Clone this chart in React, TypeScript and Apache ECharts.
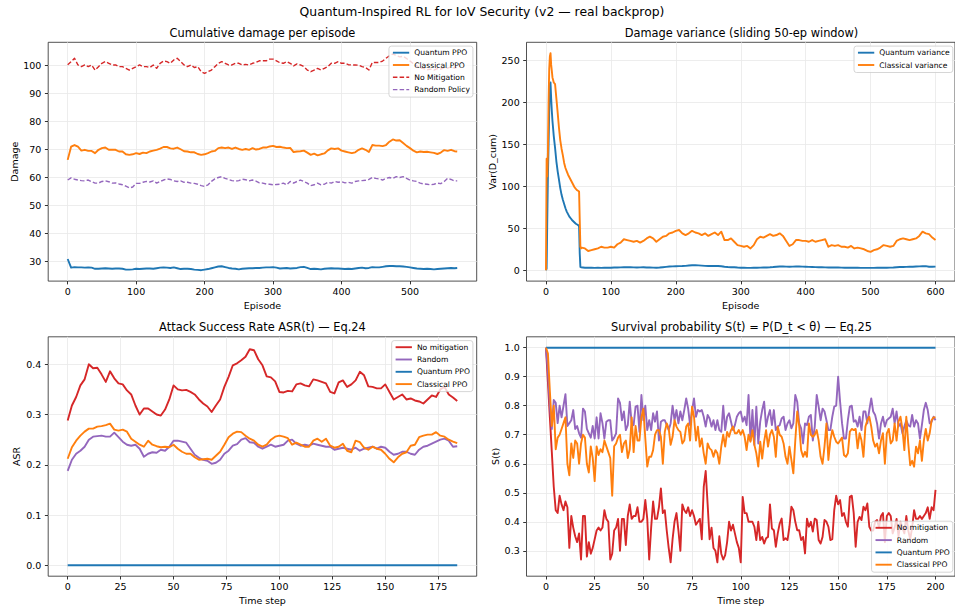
import React, { useEffect, useRef } from 'react';
import * as echarts from 'echarts';

const FONT = "'DejaVu Sans', 'Liberation Sans', sans-serif";
const BLUE = '#1f77b4';
const ORANGE = '#ff7f0e';
const RED = '#d62728';
const PURPLE = '#9467bd';

// ---------- Panel 1: cumulative damage per episode ----------
const TL_EPISODES = [0,5,10,15,20,25,30,35,40,45,50,55,60,65,70,75,80,85,90,95,100,105,110,115,120,125,130,135,140,145,150,155,160,165,170,175,180,185,190,195,200,205,210,215,220,225,230,235,240,245,250,255,260,265,270,275,280,285,290,295,300,305,310,315,320,325,330,335,340,345,350,355,360,365,370,375,380,385,390,395,400,405,410,415,420,425,430,435,440,445,450,455,460,465,470,475,480,485,490,495,500,505,510,515,520,525,530,535,540,545,550,555,560,565,569];
const TL_QUANTUM = [30.8,27.7,27.9,27.8,27.8,27.7,27.8,27.7,27.3,27.3,27.4,27.5,27.4,27.3,27.4,27.4,27.3,27.0,27.0,27.1,27.3,27.2,27.3,27.4,27.4,27.3,27.5,27.7,27.8,27.7,27.6,27.8,27.5,27.2,27.3,27.3,27.2,27.0,26.9,26.8,27.0,27.2,27.5,27.8,28.1,28.2,27.9,27.6,27.4,27.3,27.1,27.3,27.4,27.5,27.5,27.6,27.6,27.7,27.8,27.8,27.9,27.7,27.4,27.5,27.6,27.4,27.5,27.6,27.9,28.0,27.6,27.2,27.3,27.2,27.1,27.3,27.4,27.5,27.4,27.4,27.3,27.2,27.3,27.2,27.4,27.6,27.7,27.5,27.6,27.9,27.8,27.8,28.0,28.2,28.3,28.3,28.2,28.2,28.1,28.0,27.8,27.6,27.4,27.3,27.2,27.3,27.2,27.1,27.2,27.3,27.4,27.5,27.6,27.5,27.6];
const TL_CLASSICAL = [66.2,70.9,71.5,70.9,69.5,69.8,69.4,69.4,68.6,69.8,70.4,70.6,69.8,69.8,69.8,69.2,69.2,68.2,68.0,68.2,68.6,68.3,68.8,68.6,69.2,69.5,69.8,70.2,70.8,70.8,70.3,70.2,70.6,70.0,69.3,69.2,68.9,68.9,68.3,68.0,68.2,68.6,69.2,69.4,70.4,70.6,70.4,70.6,70.1,70.6,70.1,69.8,70.1,69.8,70.4,69.9,70.1,70.6,70.6,71.0,71.2,70.8,70.9,70.6,70.4,70.5,69.0,69.2,69.3,69.5,68.8,68.0,68.4,67.8,68.2,68.5,69.6,70.3,70.1,70.3,69.5,69.2,68.9,68.6,68.9,69.8,70.3,69.8,69.0,71.5,71.3,71.3,71.1,71.5,72.7,73.5,73.1,73.2,72.2,71.2,70.4,69.5,68.9,69.2,69.0,69.1,68.9,68.7,68.3,68.8,69.7,69.4,69.8,69.3,69.2];
const TL_NO_MITIGATION = [100.2,101.3,102.5,100.1,99.5,100.1,99.5,100.1,98.3,99.5,100.7,101.3,100.7,100.1,100.1,99.5,99.5,98.9,98.3,98.9,99.5,100.1,99.5,99.5,99.2,100.1,98.9,100.7,101.5,101.3,100.7,101.9,102.5,101.3,100.1,99.5,100.1,99.2,99.5,97.7,97.1,97.7,98.3,99.5,100.7,101.3,100.7,100.1,100.1,100.7,100.7,100.1,100.3,100.1,100.7,101.0,101.6,101.6,101.6,102.2,102.2,101.6,100.9,100.7,101.3,100.7,99.8,100.5,100.1,99.5,98.3,97.7,98.3,98.9,98.3,98.9,99.5,100.7,100.7,101.3,100.7,100.7,100.2,100.1,100.1,100.0,99.5,99.2,98.3,101.0,101.0,101.0,101.5,102.5,103.4,104.0,103.5,103.0,103.2,102.4,101.5,100.5,99.8,99.0,98.8,98.4,98.6,98.3,98.8,98.6,99.2,99.0,99.5,99.0,99.3];
const TL_RANDOM = [59.0,59.8,59.3,59.0,58.8,58.7,59.0,58.4,57.9,57.9,58.5,58.7,58.4,57.9,58.0,57.6,57.3,56.8,56.2,56.5,57.8,57.8,58.2,58.5,58.3,58.7,57.9,58.5,59.0,59.4,59.2,58.7,58.5,58.7,58.2,58.2,57.9,57.8,57.5,57.0,56.7,57.3,58.5,59.4,59.9,60.2,59.6,59.2,58.8,58.6,58.8,59.3,59.1,58.7,59.0,58.6,58.0,57.9,57.6,57.5,57.3,57.4,57.5,57.9,57.3,58.5,57.9,58.5,59.0,58.5,57.9,57.0,57.3,57.9,57.3,57.5,58.2,57.9,58.5,58.2,58.4,58.0,58.2,57.9,58.5,58.7,58.8,58.9,59.2,59.9,59.6,59.4,59.0,59.6,59.9,59.6,60.2,59.9,60.2,59.6,59.0,58.7,58.5,57.9,57.6,57.5,57.3,57.5,57.9,57.7,58.5,59.6,59.2,58.7,58.7];

// ---------- Panel 2: damage variance ----------
const TR_EPISODES = [0,1,2,3,4,5,6,7,8,9,10,12,14,16,18,20,22,24,26,28,30,32,34,36,38,40,42,44,46,48,50,51,52,53,54,55,60,65,70,75,80,85,90,95,100,105,110,115,120,125,130,135,140,145,150,155,160,165,170,175,180,185,190,195,200,205,210,215,220,225,230,235,240,245,250,255,260,265,270,275,280,285,290,295,300,305,310,315,320,325,330,335,340,345,350,355,360,365,370,375,380,385,390,395,400,405,410,415,420,425,430,435,440,445,450,455,460,465,470,475,480,485,490,495,500,505,510,515,520,525,530,535,540,545,550,555,560,565,570,575,580,585,590,595,600];
const TR_QUANTUM = [0,2,60,113,150,190,222,224,205,190,178,160,146,130,118,108,98,90,84,79,74,70,67,64,62,60,58.5,57,55.5,54.5,53.5,52,20,4,3.5,3.2,3.0,3.0,2.9,2.8,2.9,2.8,3.0,3.1,3.0,3.2,3.3,3.4,3.5,3.6,3.5,3.4,3.3,3.4,3.5,3.3,3.2,3.1,3.0,3.2,3.6,4.0,4.4,4.6,4.8,4.9,5.0,5.2,5.6,5.9,6.0,5.8,5.5,5.2,5.0,5.1,5.2,5.0,4.8,4.2,3.8,3.6,3.5,3.2,3.0,2.9,2.8,2.8,2.9,3.0,3.1,3.2,3.3,3.5,3.8,4.2,4.5,4.5,4.3,4.2,4.3,4.4,4.4,4.3,4.2,4.0,3.9,3.7,3.6,3.5,3.4,3.3,3.2,3.2,3.2,3.1,3.0,3.0,3.0,2.9,2.9,2.8,2.8,2.8,2.8,2.8,2.9,2.9,3.0,3.0,3.1,3.3,3.6,3.8,3.9,4.0,4.1,4.2,4.4,4.6,4.8,4.9,4.2,4.1,4.3];
const TR_CLASSICAL = [0,133,112,140,200,240,255,259,245,238,230,224,222,205,188,170,155,145,137,128,122,118,114,111,108,105,102,99,97,95.5,94.5,94,60,28,26,27,26,23,24,25,26,28,27,27,28,27,31,33,37,36,35,34,35,33,35,38,40,38,34,37,40,41,44,45,47,48,44,42,44,47,45,44,42,44,41,43,45,42,46,36,36,38,34,30,29,28,29,26,30,37,40,39,41,43,41,42,44,41,35,29,31,36,36,35,35,34,36,34,35,36,37,28,30,29,30,28,28,27,29,26,27,26,25,23,22,24,25,27,30,29,28,29,35,37,38,37,36,37,38,41,46,44,43,39,36];

// ---------- Panel 3: attack success rate (sampled every 2 time steps) ----------
const BL_STEP = 2;
const BL_NO_MITIGATION = [0.288,0.318,0.335,0.358,0.370,0.400,0.392,0.393,0.380,0.365,0.386,0.372,0.362,0.360,0.348,0.340,0.318,0.300,0.312,0.312,0.306,0.300,0.298,0.310,0.330,0.358,0.350,0.348,0.349,0.345,0.340,0.330,0.322,0.316,0.305,0.318,0.330,0.355,0.375,0.398,0.402,0.408,0.415,0.430,0.428,0.410,0.398,0.376,0.374,0.366,0.345,0.344,0.347,0.346,0.360,0.362,0.358,0.356,0.370,0.368,0.365,0.362,0.345,0.342,0.364,0.368,0.355,0.360,0.368,0.385,0.378,0.356,0.355,0.352,0.352,0.360,0.345,0.330,0.335,0.340,0.330,0.332,0.328,0.326,0.322,0.330,0.338,0.335,0.350,0.355,0.340,0.334,0.327];
const BL_RANDOM = [0.188,0.210,0.222,0.228,0.236,0.250,0.256,0.257,0.258,0.256,0.256,0.264,0.255,0.246,0.240,0.238,0.240,0.232,0.216,0.222,0.225,0.224,0.230,0.228,0.236,0.248,0.248,0.246,0.244,0.232,0.220,0.214,0.210,0.208,0.202,0.204,0.210,0.222,0.228,0.238,0.241,0.250,0.253,0.245,0.244,0.236,0.232,0.236,0.240,0.236,0.238,0.240,0.248,0.250,0.242,0.238,0.240,0.238,0.242,0.240,0.238,0.236,0.236,0.230,0.232,0.234,0.232,0.230,0.234,0.228,0.232,0.234,0.236,0.232,0.236,0.234,0.226,0.220,0.222,0.226,0.226,0.222,0.220,0.230,0.236,0.238,0.242,0.246,0.250,0.252,0.248,0.236,0.237];
const BL_QUANTUM = [0,0,0,0,0,0,0,0,0,0,0,0,0,0,0,0,0,0,0,0,0,0,0,0,0,0,0,0,0,0,0,0,0,0,0,0,0,0,0,0,0,0,0,0,0,0,0,0,0,0,0,0,0,0,0,0,0,0,0,0,0,0,0,0,0,0,0,0,0,0,0,0,0,0,0,0,0,0,0,0,0,0,0,0,0,0,0,0,0,0,0,0,0];
const BL_CLASSICAL = [0.212,0.235,0.248,0.258,0.266,0.272,0.272,0.276,0.277,0.279,0.282,0.270,0.268,0.270,0.266,0.252,0.246,0.240,0.236,0.248,0.240,0.237,0.235,0.236,0.235,0.240,0.232,0.226,0.222,0.222,0.215,0.210,0.211,0.212,0.210,0.218,0.226,0.240,0.255,0.262,0.266,0.265,0.258,0.252,0.248,0.240,0.236,0.240,0.250,0.256,0.258,0.256,0.253,0.240,0.244,0.240,0.236,0.236,0.248,0.252,0.246,0.252,0.238,0.234,0.236,0.242,0.228,0.225,0.248,0.245,0.234,0.230,0.236,0.232,0.230,0.222,0.212,0.205,0.215,0.222,0.225,0.238,0.240,0.255,0.258,0.260,0.260,0.265,0.258,0.256,0.250,0.246,0.243];

// ---------- Panel 4: survival probability (every time step) ----------
const BR_STEP = 1;
const BR_NO_MITIGATION = [1.0,0.88,0.76,0.64,0.52,0.44,0.43,0.49,0.46,0.44,0.47,0.45,0.31,0.42,0.38,0.35,0.33,0.36,0.27,0.42,0.42,0.28,0.33,0.29,0.31,0.34,0.37,0.38,0.37,0.38,0.44,0.41,0.40,0.27,0.29,0.37,0.38,0.41,0.30,0.41,0.41,0.32,0.42,0.46,0.41,0.42,0.42,0.45,0.40,0.40,0.41,0.475,0.41,0.27,0.38,0.47,0.41,0.41,0.45,0.515,0.43,0.44,0.37,0.31,0.26,0.34,0.40,0.43,0.37,0.30,0.46,0.44,0.43,0.45,0.42,0.44,0.42,0.39,0.40,0.41,0.34,0.52,0.575,0.46,0.34,0.38,0.31,0.30,0.26,0.35,0.29,0.27,0.285,0.33,0.40,0.37,0.39,0.36,0.33,0.31,0.26,0.486,0.43,0.43,0.40,0.40,0.40,0.383,0.337,0.40,0.337,0.348,0.325,0.343,0.348,0.46,0.377,0.371,0.314,0.36,0.394,0.411,0.337,0.343,0.337,0.383,0.452,0.44,0.40,0.371,0.371,0.337,0.348,0.291,0.411,0.383,0.40,0.366,0.411,0.406,0.337,0.325,0.348,0.406,0.40,0.383,0.337,0.34,0.44,0.49,0.46,0.475,0.42,0.43,0.40,0.383,0.486,0.49,0.43,0.314,0.40,0.417,0.406,0.452,0.44,0.463,0.383,0.37,0.37,0.40,0.406,0.38,0.42,0.43,0.33,0.42,0.43,0.42,0.36,0.38,0.41,0.35,0.40,0.38,0.36,0.42,0.37,0.34,0.38,0.44,0.41,0.41,0.42,0.41,0.42,0.43,0.45,0.41,0.45,0.44,0.51];
const BR_RANDOM = [1.0,0.92,0.80,0.72,0.82,0.81,0.74,0.80,0.76,0.80,0.84,0.73,0.74,0.75,0.785,0.72,0.73,0.705,0.69,0.79,0.78,0.72,0.705,0.69,0.73,0.687,0.76,0.687,0.774,0.74,0.687,0.745,0.75,0.75,0.68,0.69,0.705,0.825,0.81,0.75,0.78,0.716,0.733,0.814,0.74,0.733,0.797,0.80,0.71,0.837,0.75,0.80,0.716,0.75,0.716,0.774,0.745,0.78,0.68,0.745,0.75,0.75,0.733,0.716,0.739,0.80,0.75,0.785,0.739,0.78,0.75,0.785,0.825,0.79,0.733,0.785,0.825,0.762,0.785,0.78,0.785,0.762,0.728,0.768,0.756,0.728,0.75,0.716,0.75,0.716,0.71,0.80,0.716,0.762,0.774,0.745,0.716,0.733,0.762,0.774,0.78,0.745,0.762,0.733,0.837,0.68,0.785,0.665,0.797,0.67,0.745,0.785,0.814,0.728,0.762,0.785,0.733,0.785,0.716,0.728,0.733,0.756,0.762,0.716,0.739,0.75,0.722,0.739,0.837,0.814,0.739,0.722,0.67,0.739,0.733,0.762,0.768,0.68,0.728,0.837,0.797,0.75,0.79,0.78,0.75,0.716,0.716,0.762,0.797,0.80,0.90,0.814,0.74,0.687,0.687,0.75,0.797,0.80,0.745,0.75,0.728,0.762,0.716,0.78,0.78,0.739,0.785,0.825,0.78,0.768,0.739,0.687,0.739,0.762,0.728,0.75,0.756,0.762,0.79,0.739,0.78,0.728,0.739,0.705,0.728,0.75,0.733,0.728,0.768,0.728,0.75,0.739,0.687,0.733,0.785,0.81,0.785,0.739,0.745,0.762,0.75];
const BR_QUANTUM_STEP = 10;
const BR_QUANTUM = [1.0,1.0,1.0,1.0,1.0,1.0,1.0,1.0,1.0,1.0,1.0,1.0,1.0,1.0,1.0,1.0,1.0,1.0,1.0,1.0,1.0];
const BR_CLASSICAL = [1.0,0.98,0.85,0.73,0.80,0.65,0.69,0.70,0.72,0.74,0.76,0.60,0.56,0.67,0.62,0.68,0.67,0.60,0.67,0.70,0.69,0.60,0.57,0.66,0.62,0.54,0.66,0.63,0.65,0.64,0.68,0.66,0.64,0.62,0.49,0.66,0.67,0.69,0.70,0.64,0.67,0.68,0.62,0.65,0.76,0.64,0.73,0.68,0.68,0.76,0.79,0.687,0.59,0.624,0.624,0.647,0.70,0.716,0.716,0.693,0.60,0.71,0.739,0.722,0.665,0.693,0.75,0.728,0.716,0.71,0.67,0.68,0.728,0.739,0.68,0.797,0.762,0.68,0.728,0.659,0.687,0.636,0.60,0.67,0.653,0.647,0.624,0.647,0.636,0.60,0.659,0.70,0.659,0.71,0.693,0.716,0.728,0.705,0.705,0.716,0.70,0.716,0.693,0.647,0.70,0.676,0.716,0.665,0.636,0.59,0.676,0.618,0.676,0.716,0.659,0.70,0.716,0.693,0.624,0.728,0.70,0.693,0.67,0.624,0.60,0.659,0.613,0.567,0.68,0.78,0.73,0.647,0.624,0.641,0.624,0.739,0.70,0.693,0.70,0.716,0.68,0.624,0.60,0.659,0.739,0.613,0.68,0.716,0.693,0.676,0.67,0.68,0.69,0.63,0.624,0.636,0.71,0.72,0.716,0.72,0.653,0.705,0.68,0.624,0.728,0.75,0.762,0.728,0.68,0.659,0.67,0.636,0.68,0.705,0.60,0.705,0.72,0.67,0.68,0.739,0.68,0.745,0.762,0.72,0.647,0.762,0.67,0.595,0.61,0.59,0.659,0.636,0.68,0.61,0.68,0.72,0.68,0.705,0.75,0.76,0.76];

// ---------- tick labels ----------
const TL_X_TICKS = [0, 100, 200, 300, 400, 500];
const TL_Y_TICKS = [30, 40, 50, 60, 70, 80, 90, 100];
const TR_X_TICKS = [0, 100, 200, 300, 400, 500, 600];
const TR_Y_TICKS = [0, 50, 100, 150, 200, 250];
const BL_X_TICKS = [0, 25, 50, 75, 100, 125, 150, 175];
const BL_Y_TICKS = [0, 0.1, 0.2, 0.3, 0.4];
const BR_X_TICKS = [0, 25, 50, 75, 100, 125, 150, 175, 200];
const BR_Y_TICKS = [0.3, 0.4, 0.5, 0.6, 0.7, 0.8, 0.9, 1.0];

const pairs = (xs: number[], ys: number[]) => ys.map((v, i) => [xs[i], v]);
const stepped = (ys: number[], step: number) => ys.map((v, i) => [i * step, v]);

const GRID_BOX = [
  { left: 48.2, top: 42.3, width: 428.5, height: 238.8 },
  { left: 526.5, top: 42.3, width: 430.1, height: 238.8 },
  { left: 48.2, top: 336.8, width: 428.5, height: 239.4 },
  { left: 526.5, top: 336.8, width: 430.1, height: 239.4 },
];

function axis(dim: 'x' | 'y', grid: number, min: number, max: number, ticks: number[], interval: number, name: string, nameGap: number, decimals: number) {
  const fmt = (v: number) => {
    const hit = ticks.some((t) => Math.abs(t - v) < interval * 1e-6);
    return hit ? v.toFixed(decimals) : '';
  };
  return {
    type: 'value',
    gridIndex: grid,
    min,
    max,
    minInterval: interval,
    maxInterval: interval,
    name,
    nameLocation: 'middle',
    nameGap,
    nameTextStyle: { fontSize: 9.5, color: '#000', fontFamily: FONT },
    axisLine: { show: false, onZero: false },
    axisTick: { show: true, length: 3.3, lineStyle: { color: '#000', width: 0.8 }, customValues: ticks },
    axisLabel: { customValues: ticks, fontSize: 9.5, color: '#000', fontFamily: FONT, margin: dim === 'x' ? 5.5 : 6.8, formatter: fmt, hideOverlap: false },
    splitLine: { show: true, lineStyle: { color: '#e8e8e8', width: 0.8 } },
  };
}

function line(name: string, data: number[][], grid: number, color: string, width: number, dashed = false) {
  return {
    type: 'line',
    name,
    xAxisIndex: grid,
    yAxisIndex: grid,
    data,
    showSymbol: false,
    symbol: 'none',
    clip: false,
    silent: true,
    emphasis: { disabled: true },
    itemStyle: { color },
    lineStyle: { color, width, type: dashed ? [4.5, 2.2] : 'solid', join: 'round', cap: 'butt' },
  };
}

function legend(names: string[], pos: Record<string, number>) {
  return {
    orient: 'vertical',
    ...pos,
    itemWidth: 16.3,
    itemHeight: 8,
    itemGap: 4.3,
    padding: [2.6, 3, 3.5, 3],
    backgroundColor: 'rgba(255,255,255,0.8)',
    borderColor: '#cccccc',
    borderWidth: 0.8,
    borderRadius: 2.5,
    selectedMode: false,
    textStyle: { fontSize: 7.6, color: '#000', fontFamily: FONT },
    itemStyle: { opacity: 0 },
    lineStyle: { width: 'inherit' },
    data: names,
  };
}

function titleText(text: string, x: number, y: number, size: number) {
  return {
    type: 'text',
    x,
    y,
    silent: true,
    style: {
      text,
      fill: '#000',
      fontSize: size,
      fontFamily: FONT,
      align: 'center',
      verticalAlign: 'middle',
      textAlign: 'center',
      textVerticalAlign: 'middle',
    },
  };
}

const option = {
  animation: false,
  backgroundColor: '#ffffff',
  textStyle: { fontFamily: FONT },
  grid: GRID_BOX.map((g) => ({ ...g, show: true, borderColor: '#262626', borderWidth: 0.8, backgroundColor: 'transparent', containLabel: false })),
  xAxis: [
    axis('x', 0, -28.45, 597.45, TL_X_TICKS, 100, 'Episode', 19, 0),
    axis('x', 1, -30, 630, TR_X_TICKS, 100, 'Episode', 19, 0),
    axis('x', 2, -9.2, 193.2, BL_X_TICKS, 25, 'Time step', 19, 0),
    axis('x', 3, -10, 210, BR_X_TICKS, 25, 'Time step', 19, 0),
  ],
  yAxis: [
    axis('y', 0, 22.9, 108.2, TL_Y_TICKS, 10, 'Damage', 29.2, 0),
    axis('y', 1, -12.95, 271.95, TR_Y_TICKS, 50, 'Var(D_cum)', 29.5, 0),
    axis('y', 2, -0.02165, 0.4547, BL_Y_TICKS, 0.1, 'ASR', 26.5, 1),
    axis('y', 3, 0.2125, 1.0375, BR_Y_TICKS, 0.1, 'S(t)', 26.3, 1),
  ],
  legend: [
    legend(['Quantum PPO', 'Classical PPO', 'No Mitigation', 'Random Policy'], { right: 482.1, top: 46.1 }),
    legend(['Quantum variance', 'Classical variance'], { right: 2.2, top: 46.1 }),
    legend(['No mitigation', 'Random', 'Quantum PPO', 'Classical PPO'], { right: 482.1, top: 340.6 }),
    legend(['No mitigation', 'Random', 'Quantum PPO', 'Classical PPO'], { right: 2.2, bottom: 37.8 }),
  ],
  graphic: [
    titleText('Quantum-Inspired RL for IoV Security (v2 \u2014 real backprop)', 482, 11.5, 12.4),
    titleText('Cumulative damage per episode', 262.45, 32.6, 11.4),
    titleText('Damage variance (sliding 50-ep window)', 741.5, 32.6, 11.4),
    titleText('Attack Success Rate ASR(t) \u2014 Eq.24', 262.45, 327.2, 11.4),
    titleText('Survival probability S(t) = P(D_t < \u03b8) \u2014 Eq.25', 741.5, 327.2, 11.4),
  ],
  series: [
    line('Quantum PPO', pairs(TL_EPISODES, TL_QUANTUM), 0, BLUE, 1.9),
    line('Classical PPO', pairs(TL_EPISODES, TL_CLASSICAL), 0, ORANGE, 1.9),
    line('No Mitigation', pairs(TL_EPISODES, TL_NO_MITIGATION), 0, RED, 1.4, true),
    line('Random Policy', pairs(TL_EPISODES, TL_RANDOM), 0, PURPLE, 1.4, true),

    line('Quantum variance', pairs(TR_EPISODES, TR_QUANTUM), 1, BLUE, 1.9),
    line('Classical variance', pairs(TR_EPISODES, TR_CLASSICAL), 1, ORANGE, 1.9),

    line('No mitigation', stepped(BL_NO_MITIGATION, BL_STEP), 2, RED, 1.9),
    line('Random', stepped(BL_RANDOM, BL_STEP), 2, PURPLE, 1.9),
    line('Quantum PPO', stepped(BL_QUANTUM, BL_STEP), 2, BLUE, 1.9),
    line('Classical PPO', stepped(BL_CLASSICAL, BL_STEP), 2, ORANGE, 1.9),

    line('No mitigation', stepped(BR_NO_MITIGATION, BR_STEP), 3, RED, 1.9),
    line('Random', stepped(BR_RANDOM, BR_STEP), 3, PURPLE, 1.9),
    line('Quantum PPO', stepped(BR_QUANTUM, BR_QUANTUM_STEP), 3, BLUE, 1.9),
    line('Classical PPO', stepped(BR_CLASSICAL, BR_STEP), 3, ORANGE, 1.9),
  ],
};

export default function App() {
  const ref = useRef<HTMLDivElement>(null);
  useEffect(() => {
    if (!ref.current) return;
    const chart = echarts.init(ref.current, null, { renderer: 'svg' });
    chart.setOption(option as any);
    return () => {
      chart.dispose();
    };
  }, []);
  return (
    <div
      ref={ref}
      style={{ position: 'fixed', left: 0, top: 0, width: 955, height: 610, background: '#ffffff' }}
    />
  );
}
